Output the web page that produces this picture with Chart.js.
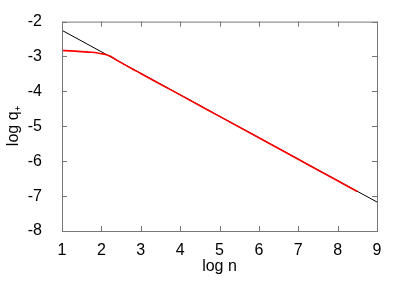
<!DOCTYPE html>
<html>
<head>
<meta charset="utf-8">
<script src="https://cdn.jsdelivr.net/npm/chart.js@4/dist/chart.umd.min.js"></script>
<style>
  html, body { margin: 0; padding: 0; background: #fff; }
  #wrap { width: 407px; height: 285px; }
</style>
</head>
<body>
<div id="wrap"><canvas id="chart" width="407" height="285"></canvas></div>
<script>
// fitted power law, log q+ vs log n
var fitX = [1, 9];
var fitY = [-2.25, -7.17];

// measured values
var dataX = [1, 1.25, 1.5, 1.75, 1.9, 2, 2.1, 2.2, 2.3, 2.4, 2.5, 2.6, 2.8, 3, 3.5, 4, 5, 6, 7, 8, 8.5];
var dataY = [-2.83, -2.84, -2.86, -2.88, -2.9, -2.92, -2.94, -2.98, -3.04, -3.11, -3.175, -3.24, -3.365, -3.485, -3.795, -4.1, -4.715, -5.33, -5.945, -6.56, -6.87];

var xTicks = [1, 2, 3, 4, 5, 6, 7, 8, 9];
var yTicks = [-8, -7, -6, -5, -4, -3, -2];

function pts(xs, ys) {
  return xs.map(function (x, i) { return {x: x, y: ys[i]}; });
}

// gnuplot style inward ticks on all four sides
var tickMarks = {
  id: 'tickMarks',
  afterDraw: function (chart) {
    var ctx = chart.ctx, a = chart.chartArea;
    var sx = chart.scales.x, sy = chart.scales.y;
    ctx.save();
    ctx.strokeStyle = '#777';
    ctx.lineWidth = 1;
    ctx.beginPath();
    xTicks.forEach(function (v) {
      var p = Math.round(sx.getPixelForValue(v)) + 0.5;
      ctx.moveTo(p, a.bottom); ctx.lineTo(p, a.bottom - 5);
      ctx.moveTo(p, a.top); ctx.lineTo(p, a.top + 5);
    });
    yTicks.forEach(function (v) {
      var p = Math.round(sy.getPixelForValue(v)) + 0.5;
      ctx.moveTo(a.left, p); ctx.lineTo(a.left + 5, p);
      ctx.moveTo(a.right, p); ctx.lineTo(a.right - 5, p);
    });
    ctx.stroke();
    ctx.strokeRect(a.left + 0.5, a.top + 0.5, a.right - a.left, a.bottom - a.top);
    ctx.restore();
  }
};

Chart.defaults.font.family = '"Liberation Sans", Arial, sans-serif';
Chart.defaults.color = '#000';

new Chart(document.getElementById('chart'), {
  type: 'line',
  data: {
    datasets: [{
      data: pts(dataX, dataY),
      borderColor: '#ff0000',
      borderWidth: 1.6,
      pointRadius: 0,
      cubicInterpolationMode: 'monotone',
      fill: false,
      order: 1
    }, {
      data: pts(fitX, fitY),
      borderColor: '#000',
      borderWidth: 1,
      pointRadius: 0,
      fill: false,
      order: 2
    }]
  },
  plugins: [tickMarks],
  options: {
    responsive: false,
    animation: false,
    layout: { padding: { top: 19, right: 30, left: 0, bottom: 0 } },
    plugins: { legend: { display: false }, tooltip: { enabled: false } },
    scales: {
      x: {
        type: 'linear',
        min: 1, max: 9,
        afterBuildTicks: function (s) { s.ticks = xTicks.map(function (v) { return {value: v}; }); },
        afterFit: function (s) { s.height = 54; },
        grid: { display: false },
        border: { display: false },
        ticks: { font: { size: 16 }, padding: 2, maxRotation: 0 },
        title: { display: true, text: 'log n', font: { size: 16 }, padding: { top: 0, bottom: 9 } }
      },
      y: {
        type: 'linear',
        min: -8, max: -2,
        afterBuildTicks: function (s) { s.ticks = yTicks.map(function (v) { return {value: v}; }); },
        afterFit: function (s) { s.width = 62; },
        grid: { display: false },
        border: { display: false },
        ticks: { font: { size: 16 }, padding: 12 },
        title: { display: true, text: 'log q\u208A', font: { size: 16 }, padding: { top: 4, bottom: 4 } }
      }
    }
  }
});
</script>
</body>
</html>
